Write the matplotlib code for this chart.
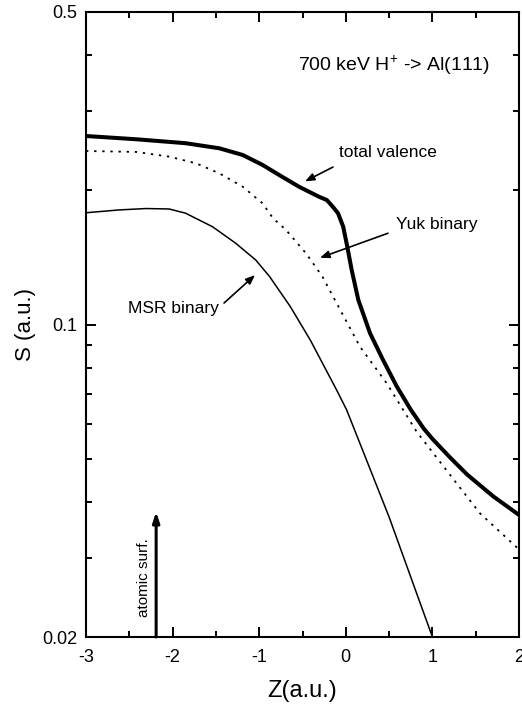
import matplotlib
matplotlib.use("Agg")
import matplotlib.pyplot as plt
from matplotlib.ticker import FixedLocator, NullFormatter, FixedFormatter

plt.rcParams['font.family'] = ['Liberation Sans', 'DejaVu Sans']
plt.rcParams['mathtext.fontset'] = 'custom'
plt.rcParams['mathtext.rm'] = 'Liberation Sans'
plt.rcParams['mathtext.it'] = 'Liberation Sans:italic'
plt.rcParams['axes.unicode_minus'] = False

# ---- data ----
tv_z = [-3.0, -2.42, -1.85, -1.46, -1.19, -0.96, -0.77, -0.54, -0.31, -0.22, -0.15, -0.09,
        -0.03, 0.017, 0.068, 0.145, 0.28, 0.43, 0.59, 0.75, 0.9, 1.0, 1.2, 1.4, 1.7, 2.0]
tv_s = [0.264, 0.2596, 0.2544, 0.2478, 0.2394, 0.2274, 0.216, 0.2033, 0.1931, 0.1899, 0.1834, 0.1774,
        0.1655, 0.1493, 0.1324, 0.1134, 0.0956, 0.0833, 0.0726, 0.0645, 0.0585, 0.0555, 0.0505,
        0.0462, 0.0413, 0.0375]

yuk_z = [-3.0, -2.42, -2.04, -1.73, -1.46, -1.19, -0.96, -0.84, -0.69, -0.46, -0.27, -0.105,
         0.164, 0.472, 0.82, 1.2, 1.55, 2.0]
yuk_s = [0.2444, 0.2432, 0.2374, 0.2294, 0.2178, 0.2033, 0.1866, 0.1728, 0.1627, 0.1443, 0.128, 0.1115,
         0.0892, 0.0739, 0.0575, 0.0462, 0.0378, 0.0314]

msr_z = [-3.0, -2.62, -2.31, -2.04, -1.85, -1.54, -1.27, -1.04, -0.88, -0.64, -0.41, -0.105,
         0.01, 0.5, 1.0]
msr_s = [0.1778, 0.1804, 0.1817, 0.1813, 0.1774, 0.1655, 0.1519, 0.1394, 0.128, 0.1096, 0.0923, 0.0713,
         0.0644, 0.0371, 0.0200]

x_ticks = [-3, -2, -1, 0, 1, 2]
y_ticks = [0.02, 0.1, 0.5]
y_tick_labels = ['0.02', '0.1', '0.5']

fig = plt.figure(figsize=(5.22, 7.08), dpi=100)
ax = fig.add_axes([86/522, 1 - 637/708, (519-86)/522, (637-12)/708])

ax.plot(tv_z, tv_s, color='black', lw=2.9, solid_joinstyle='round', solid_capstyle='butt')
ax.plot(yuk_z, yuk_s, color='black', lw=1.3, linestyle=(0, (1.3, 3.2)))
ax.plot(msr_z, msr_s, color='black', lw=1.1, solid_joinstyle='round')

ax.set_yscale('log')
ax.set_xlim(-3, 2)
ax.set_ylim(0.02, 0.5)

ax.xaxis.set_major_locator(FixedLocator(x_ticks))
ax.xaxis.set_minor_locator(FixedLocator([-2.5, -1.5, -0.5, 0.5, 1.5]))
ax.yaxis.set_major_locator(FixedLocator(y_ticks))
ax.yaxis.set_major_formatter(FixedFormatter(y_tick_labels))
ax.yaxis.set_minor_locator(FixedLocator([0.03, 0.04, 0.05, 0.06, 0.07, 0.08, 0.09, 0.2, 0.3, 0.4]))
ax.yaxis.set_minor_formatter(NullFormatter())

ax.tick_params(which='both', direction='in', top=True, right=True, width=1.4, labelsize=13)
ax.tick_params(which='major', length=7)
ax.tick_params(axis='y', which='major', pad=6)
ax.tick_params(axis='x', which='major', pad=9)
ax.tick_params(which='minor', length=4.5)
for sp in ax.spines.values():
    sp.set_linewidth(1.5)

ax.set_xlabel('Z(a.u.)', fontsize=17, labelpad=10)
ax.set_ylabel('S (a.u.)', fontsize=16, labelpad=5)

ax.text(1.665, 0.380, r'700 keV H$^{+}$ -> Al(111)', fontsize=14, ha='right', va='center')

arrow_kw = dict(arrowstyle='-|>,head_length=0.55,head_width=0.22', color='black', lw=1.2,
                shrinkA=0, shrinkB=0)
ax.text(-0.079, 0.242, 'total valence', fontsize=12.5, ha='left', va='center')
ax.annotate('', xy=(-0.471, 0.209), xytext=(-0.148, 0.225), arrowprops=arrow_kw)
ax.text(0.58, 0.167, 'Yuk binary', fontsize=12.5, ha='left', va='center')
ax.annotate('', xy=(-0.298, 0.141), xytext=(0.487, 0.160), arrowprops=arrow_kw)
ax.text(-2.515, 0.1088, 'MSR binary', fontsize=12.5, ha='left', va='center')
ax.annotate('', xy=(-1.048, 0.129), xytext=(-1.406, 0.1117), arrowprops=arrow_kw)

ax.annotate('', xy=(-2.19, 0.0381), xytext=(-2.19, 0.02),
            arrowprops=dict(arrowstyle='-|>,head_length=0.6,head_width=0.2', color='black',
                            lw=2.2, shrinkA=0, shrinkB=0), annotation_clip=False)
ax.text(-2.33, 0.0272, 'atomic surf.', fontsize=11, rotation=90, ha='center', va='center')

fig.savefig('out.png', dpi=100)
